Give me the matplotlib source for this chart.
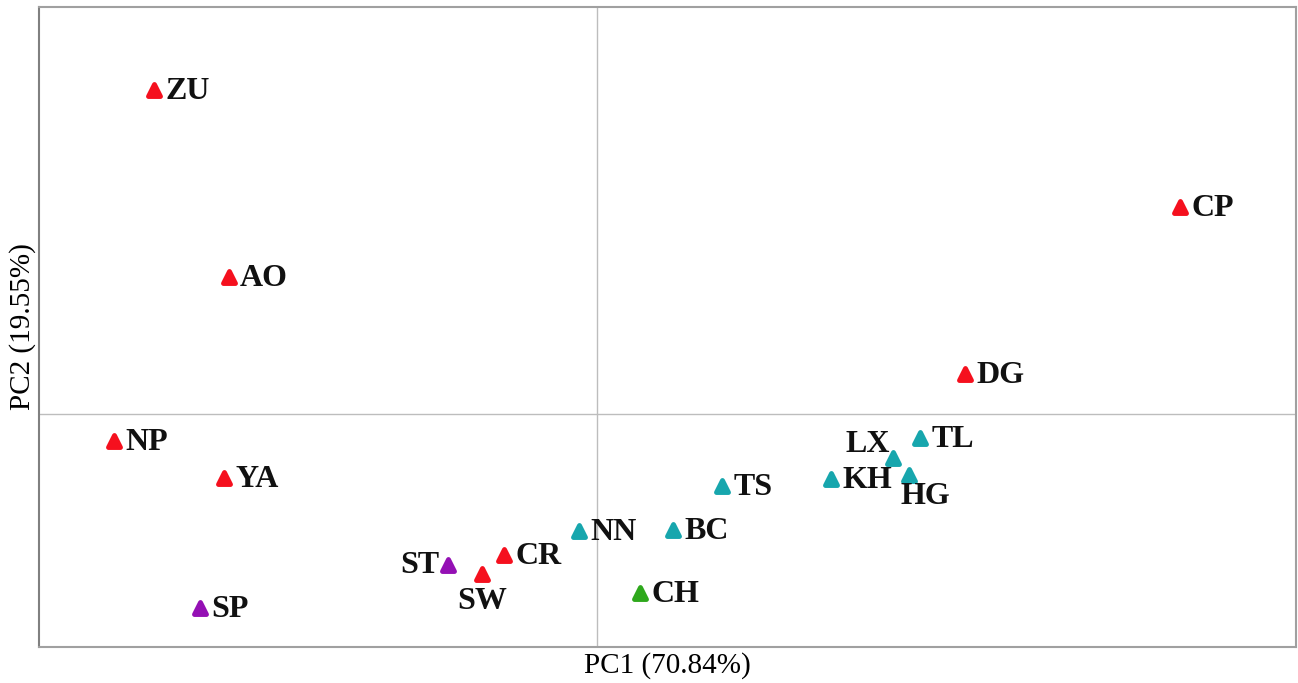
import matplotlib.pyplot as plt
from matplotlib.markers import MarkerStyle

plt.rcParams['font.family'] = ['Liberation Serif', 'DejaVu Serif']

# PCA scores (arbitrary units)
names = ["ZU", "AO", "NP", "YA", "SP", "ST", "SW", "CR", "NN",
         "BC", "CH", "TS", "KH", "LX", "HG", "TL", "DG", "CP"]
pc1 = [-4.43, -3.68, -4.83, -3.73, -3.97, -1.49, -1.15, -0.93, -0.18,
       0.76, 0.43, 1.25, 2.34, 2.96, 3.12, 3.23, 3.68, 5.83]
pc2 = [3.24, 1.37, -0.27, -0.64, -1.94, -1.51, -1.60, -1.41, -1.17,
       -1.16, -1.79, -0.72, -0.65, -0.44, -0.61, -0.24, 0.40, 2.07]
groups = ["r", "r", "r", "r", "p", "p", "r", "r", "t",
          "t", "g", "t", "t", "t", "t", "t", "r", "r"]

colors = {"r": "#f5101e", "p": "#9410b4", "t": "#17a6ad", "g": "#2ea81c"}

# label offsets in points (dx, dy, ha, va)
offsets = {"ST": (-6, 0, "right", "center"),
           "SW": (0, -9, "center", "top"),
           "LX": (-2, -1, "right", "bottom"),
           "HG": (-6, -5, "left", "top")}

fig = plt.figure(figsize=(12.98, 6.83), dpi=100)
ax = fig.add_axes([0.030, 0.0527, 0.9685, 0.9371])

mk = MarkerStyle("^", joinstyle="round")
for x, y, n, g in zip(pc1, pc2, names, groups):
    ax.scatter(x, y, s=75, marker=mk, color=colors[g], edgecolor=colors[g],
               linewidths=3.5, zorder=3)
    dx, dy, ha, va = offsets.get(n, (8, -1, "left", "center"))
    ax.annotate(n, (x, y), xytext=(dx, dy), textcoords="offset points",
                ha=ha, va=va, fontsize=23, fontweight="bold", color="#111111",
                zorder=4)

ax.axhline(0, color="#bdbdbd", lw=1, zorder=1)
ax.axvline(0, color="#bdbdbd", lw=1, zorder=1)

ax.set_xlim(-5.58, 6.99)
ax.set_ylim(-2.33, 4.07)
ax.set_xticks([])
ax.set_yticks([])
for s in ["top", "right", "bottom"]:
    ax.spines[s].set_color("#a0a0a0")
    ax.spines[s].set_linewidth(1.5)
ax.spines["left"].set_color("#808080")
ax.spines["left"].set_linewidth(1.5)

ax.set_xlabel("PC1 (70.84%)", fontsize=21, labelpad=4)
ax.set_ylabel("PC2 (19.55%)", fontsize=21, labelpad=2)

fig.savefig("out.png", dpi=100)
